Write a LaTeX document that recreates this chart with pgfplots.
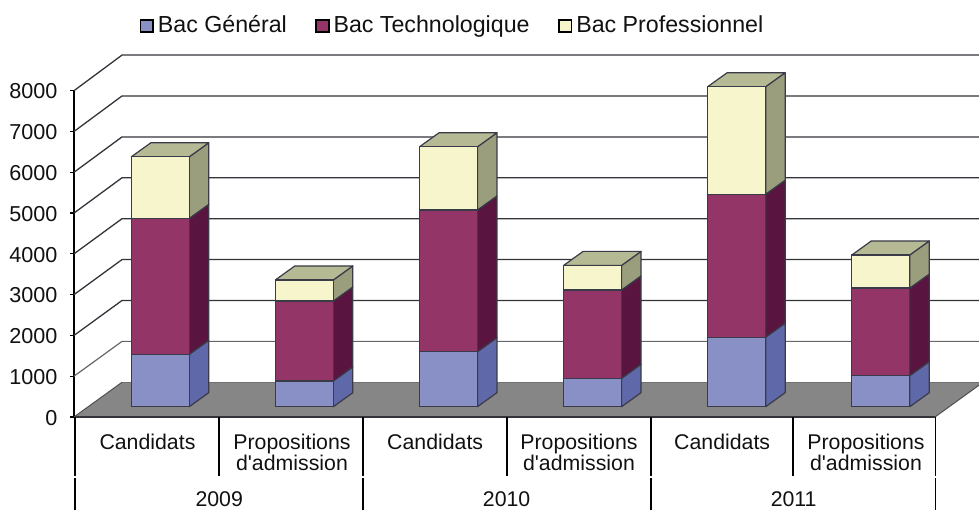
\documentclass[border=0pt]{standalone}
\usepackage{fontspec}
\setmainfont{Liberation Sans}
\newfontfamily\plainf{Liberation Sans}
\usepackage{pgfplots}
\pgfplotsset{compat=1.18}
\newcommand\lab{\fontsize{21.3}{25}\selectfont}
\newcommand\tlab{\fontsize{21.6}{25}\selectfont}
\newcommand\llab{\fontsize{23.2}{26}\selectfont}
\definecolor{txt}{HTML}{111111}
\definecolor{gridc}{HTML}{33333A}
\definecolor{floorc}{HTML}{868686}
\definecolor{edgec}{HTML}{3A3A48}
\definecolor{blueF}{HTML}{8890C6}
\definecolor{blueS}{HTML}{5F69A9}
\definecolor{plumF}{HTML}{933566}
\definecolor{plumS}{HTML}{5A1440}
\definecolor{creamF}{HTML}{F7F5CB}
\definecolor{creamS}{HTML}{9A9E7C}
\definecolor{creamT}{HTML}{B5BA94}
\begin{document}
\begin{tikzpicture}[x=1pt,y=1pt]
\path[use as bounding box] (0,0) rectangle (979,510);
% frame: floor, walls, value axis, category labels
\begin{axis}[
  at={(74pt,93pt)},anchor=south west,scale only axis,width=905pt,height=326.3pt,
  xmin=0,xmax=6.3066,ymin=0,ymax=8000,enlargelimits=false,clip=false,
  axis y line=left,axis x line=none,axis line style={-,black,line width=1.3pt},
  ytick={0,1000,2000,3000,4000,5000,6000,7000,8000},
  tick align=outside,major tick length=4pt,
  tick style={black,line width=1.3pt},
  yticklabel style={font=\tlab,text=txt,yshift=-0.8pt,
    /pgf/number format/assume math mode=true,/pgf/number format/1000 sep={}},
  yticklabel shift=9pt,
]
\addplot[fill=floorc,draw=none] coordinates {(0,0)(0.3345,851)(6.3066,851)(6.3066,779)(6,0)} -- cycle;
\addplot[gridc!70!white,line width=1pt] coordinates {(0.3345,851)(6.3066,851)};
\addplot[gridc,line width=1.3pt] coordinates {(0,0)(6.01,0)};
\addplot[floorc!60!black,line width=1pt] coordinates {(0,0)(0.3345,851)};
\addplot[floorc!60!black,line width=1pt] coordinates {(6,0)(6.3066,779)};
\addplot[gridc!75!white,line width=1.2pt] coordinates {(0,1000)(0.3345,1854)(6.3066,1854)};
\addplot[gridc,line width=1.3pt] coordinates {(0,2000)(0.3345,2856)(6.3066,2856)};
\addplot[gridc,line width=1.3pt] coordinates {(0,3000)(0.3345,3859)(6.3066,3859)};
\addplot[gridc,line width=1.3pt] coordinates {(0,4000)(0.3345,4862)(6.3066,4862)};
\addplot[gridc,line width=1.3pt] coordinates {(0,5000)(0.3345,5865)(6.3066,5865)};
\addplot[gridc,line width=1.3pt] coordinates {(0,6000)(0.3345,6867)(6.3066,6867)};
\addplot[gridc,line width=1.3pt] coordinates {(0,7000)(0.3345,7870)(6.3066,7870)};
\addplot[gridc,line width=1.3pt] coordinates {(0,8000)(0.3345,8873)(6.3066,8873)};
% dividers
\addplot[black,line width=1.4pt] coordinates {(0.007,0)(0.007,-1446)};
\addplot[black,line width=1.4pt] coordinates {(1.0105,0)(1.0105,-1446)};
\addplot[black,line width=1.4pt] coordinates {(2.014,0)(2.014,-1446)};
\addplot[black,line width=1.4pt] coordinates {(3.017,0)(3.017,-1446)};
\addplot[black,line width=1.4pt] coordinates {(4.021,0)(4.021,-1446)};
\addplot[black,line width=1.4pt] coordinates {(5.01,0)(5.01,-1446)};
\addplot[black,line width=1.4pt] coordinates {(6.003,0)(6.003,-1446)};
\addplot[black,line width=1.4pt] coordinates {(0.007,-1495)(0.007,-2280)};
\addplot[black,line width=1.4pt] coordinates {(2.014,-1495)(2.014,-2280)};
\addplot[black,line width=1.4pt] coordinates {(4.021,-1495)(4.021,-2280)};
\addplot[black,line width=1.4pt] coordinates {(6.003,-1495)(6.003,-2280)};
\node[font=\lab,text=txt,anchor=base,inner sep=0pt] at (axis cs:0.512,-797) {Candidats};
\node[font=\lab,text=txt,anchor=base,inner sep=0pt] at (axis cs:2.517,-797) {Candidats};
\node[font=\lab,text=txt,anchor=base,inner sep=0pt] at (axis cs:4.517,-797) {Candidats};
\node[font=\lab,text=txt,anchor=base,inner sep=0pt] at (axis cs:1.519,-797) {Propositions};
\node[font=\lab,text=txt,anchor=base,inner sep=0pt] at (axis cs:3.519,-797) {Propositions};
\node[font=\lab,text=txt,anchor=base,inner sep=0pt] at (axis cs:5.519,-797) {Propositions};
\node[font=\lab\plainf,text=txt,anchor=base,inner sep=0pt] at (axis cs:1.519,-1312) {d'admission};
\node[font=\lab\plainf,text=txt,anchor=base,inner sep=0pt] at (axis cs:3.519,-1312) {d'admission};
\node[font=\lab\plainf,text=txt,anchor=base,inner sep=0pt] at (axis cs:5.519,-1312) {d'admission};
\node[font=\lab,text=txt,anchor=base,inner sep=0pt] at (axis cs:1.012,-2204) {2009};
\node[font=\lab,text=txt,anchor=base,inner sep=0pt] at (axis cs:3.015,-2204) {2010};
\node[font=\lab,text=txt,anchor=base,inner sep=0pt] at (axis cs:5.015,-2204) {2011};
\end{axis}
% side and top faces of the columns
\begin{axis}[
  at={(0pt,0pt)},anchor=south west,scale only axis,width=979pt,height=510pt,
  xmin=-0.1124,xmax=6.6813,ymin=-2525.7,ymax=9943.7,enlargelimits=false,hide axis,
  every axis plot/.append style={draw=edgec,line width=1.2pt,line join=round},
]
% 1
\addplot[fill=blueS] coordinates {(1.201,0)(1.336,342)(1.336,1622)(1.201,1280)} -- cycle;
\addplot[fill=plumS] coordinates {(1.201,1280)(1.336,1622)(1.336,4947)(1.201,4605)} -- cycle;
\addplot[fill=creamS] coordinates {(1.201,4605)(1.336,4947)(1.336,6452)(1.201,6110)} -- cycle;
\addplot[fill=creamT] coordinates {(0.799,6110)(0.934,6452)(1.336,6452)(1.201,6110)} -- cycle;
% 2
\addplot[fill=blueS] coordinates {(2.201,0)(2.336,342)(2.336,972)(2.201,630)} -- cycle;
\addplot[fill=plumS] coordinates {(2.201,630)(2.336,972)(2.336,2927)(2.201,2585)} -- cycle;
\addplot[fill=creamS] coordinates {(2.201,2585)(2.336,2927)(2.336,3442)(2.201,3100)} -- cycle;
\addplot[fill=creamT] coordinates {(1.799,3100)(1.934,3442)(2.336,3442)(2.201,3100)} -- cycle;
% 3
\addplot[fill=blueS] coordinates {(3.201,0)(3.336,342)(3.336,1687)(3.201,1345)} -- cycle;
\addplot[fill=plumS] coordinates {(3.201,1345)(3.336,1687)(3.336,5152)(3.201,4810)} -- cycle;
\addplot[fill=creamS] coordinates {(3.201,4810)(3.336,5152)(3.336,6697)(3.201,6355)} -- cycle;
\addplot[fill=creamT] coordinates {(2.799,6355)(2.934,6697)(3.336,6697)(3.201,6355)} -- cycle;
% 4
\addplot[fill=blueS] coordinates {(4.201,0)(4.336,342)(4.336,1037)(4.201,695)} -- cycle;
\addplot[fill=plumS] coordinates {(4.201,695)(4.336,1037)(4.336,3197)(4.201,2855)} -- cycle;
\addplot[fill=creamS] coordinates {(4.201,2855)(4.336,3197)(4.336,3797)(4.201,3455)} -- cycle;
\addplot[fill=creamT] coordinates {(3.799,3455)(3.934,3797)(4.336,3797)(4.201,3455)} -- cycle;
% 5
\addplot[fill=blueS] coordinates {(5.201,0)(5.336,342)(5.336,2042)(5.201,1700)} -- cycle;
\addplot[fill=plumS] coordinates {(5.201,1700)(5.336,2042)(5.336,5537)(5.201,5195)} -- cycle;
\addplot[fill=creamS] coordinates {(5.201,5195)(5.336,5537)(5.336,8167)(5.201,7825)} -- cycle;
\addplot[fill=creamT] coordinates {(4.799,7825)(4.934,8167)(5.336,8167)(5.201,7825)} -- cycle;
% 6
\addplot[fill=blueS] coordinates {(6.201,0)(6.336,342)(6.336,1102)(6.201,760)} -- cycle;
\addplot[fill=plumS] coordinates {(6.201,760)(6.336,1102)(6.336,3242)(6.201,2900)} -- cycle;
\addplot[fill=creamS] coordinates {(6.201,2900)(6.336,3242)(6.336,4052)(6.201,3710)} -- cycle;
\addplot[fill=creamT] coordinates {(5.799,3710)(5.934,4052)(6.336,4052)(6.201,3710)} -- cycle;
\end{axis}
% front faces: stacked values
\begin{axis}[
  at={(0pt,0pt)},anchor=south west,scale only axis,width=979pt,height=510pt,
  xmin=-0.1124,xmax=6.6813,ymin=-2525.7,ymax=9943.7,enlargelimits=false,hide axis,
  ybar stacked,bar width=58pt,
  legend columns=3,
  legend image code/.code={\draw[#1,draw=black,line width=1.7pt] (0pt,0.5pt) rectangle (12.5pt,13pt);},
  legend style={at={(axis description cs:0.1425,0.951)},anchor=west,draw=none,fill=none,font=\llab,text=txt,
    inner sep=0pt,nodes={inner sep=0pt,anchor=base west},
    /tikz/every odd column/.append style={column sep=4pt},
    /tikz/every even column/.append style={column sep=28.5pt}},
]
\addplot[fill=blueF,draw=edgec,line width=1.2pt] coordinates {(1,1280)(2,630)(3,1345)(4,695)(5,1700)(6,760)};
\addplot[fill=plumF,draw=edgec,line width=1.2pt] coordinates {(1,3325)(2,1955)(3,3465)(4,2160)(5,3495)(6,2140)};
\addplot[fill=creamF,draw=edgec,line width=1.2pt] coordinates {(1,1505)(2,515)(3,1545)(4,600)(5,2630)(6,810)};
\legend{Bac Général,Bac Technologique,Bac Professionnel}
\end{axis}
\end{tikzpicture}
\end{document}
